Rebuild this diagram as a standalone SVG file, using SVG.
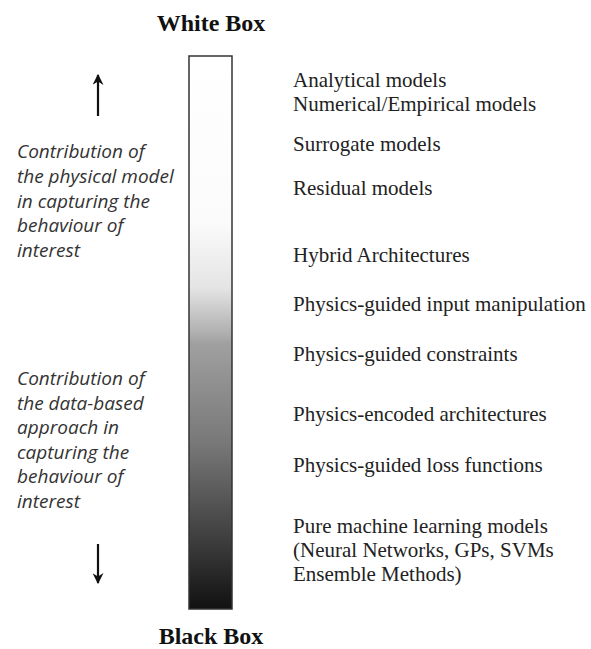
<svg xmlns="http://www.w3.org/2000/svg" width="591" height="649" viewBox="0 0 591 649">
<defs>
<linearGradient id="g" x1="0" y1="0" x2="0" y2="1">
<stop offset="0" stop-color="#ffffff"/>
<stop offset="0.3" stop-color="#fbfbfb"/>
<stop offset="0.42" stop-color="#e4e4e4"/>
<stop offset="0.5" stop-color="#b0b0b0"/>
<stop offset="0.52" stop-color="#a0a0a0"/>
<stop offset="0.7" stop-color="#787878"/>
<stop offset="0.88" stop-color="#3c3c3c"/>
<stop offset="1" stop-color="#111111"/>
</linearGradient>
<marker id="ah" viewBox="0 0 10 10" refX="9" refY="5" markerWidth="5" markerHeight="5" orient="auto" markerUnits="strokeWidth">
<path d="M0,0 L10,5 L0,10 L3,5 z" fill="#111"/>
</marker>
<style>
.h{font-family:"Liberation Serif",serif;font-weight:bold;font-size:24px;fill:#111;text-anchor:middle}
.r{font-family:"Liberation Serif",serif;font-size:21px;fill:#222}
.l{font-family:"Open Sans","DejaVu Sans",sans-serif;font-style:italic;font-size:19px;fill:#333}
.a{stroke:#111;stroke-width:2.2;fill:none}
</style>
</defs>
<rect width="591" height="649" fill="#ffffff"/>
<g id="bar">
<rect x="189" y="56" width="43" height="553" fill="url(#g)" stroke="#333" stroke-width="1.5"/>
</g>
<g id="title-white"><text class="h" x="211" y="31">White Box</text></g>
<g id="title-black"><text class="h" x="211" y="644">Black Box</text></g>
<g id="connectors">
<line class="a" x1="98" y1="116" x2="98" y2="75" marker-end="url(#ah)"/>
<line class="a" x1="98" y1="544" x2="98" y2="583" marker-end="url(#ah)"/>
</g>
<g id="left-physical">
<text class="l" x="17" y="158">Contribution of</text>
<text class="l" x="17" y="183">the physical model</text>
<text class="l" x="17" y="208">in capturing the</text>
<text class="l" x="17" y="232">behaviour of</text>
<text class="l" x="17" y="257">interest</text>
</g>
<g id="left-data">
<text class="l" x="17" y="385">Contribution of</text>
<text class="l" x="17" y="410">the data-based</text>
<text class="l" x="17" y="434">approach in</text>
<text class="l" x="17" y="459">capturing the</text>
<text class="l" x="17" y="483">behaviour of</text>
<text class="l" x="17" y="508">interest</text>
</g>
<g id="labels">
<text class="r" x="293" y="87">Analytical models</text>
<text class="r" x="293" y="111">Numerical/Empirical models</text>
<text class="r" x="293" y="151">Surrogate models</text>
<text class="r" x="293" y="195">Residual models</text>
<text class="r" x="293" y="262">Hybrid Architectures</text>
<text class="r" x="293" y="311">Physics-guided input manipulation</text>
<text class="r" x="293" y="361">Physics-guided constraints</text>
<text class="r" x="293" y="421">Physics-encoded architectures</text>
<text class="r" x="293" y="472">Physics-guided loss functions</text>
<text class="r" x="293" y="533">Pure machine learning models</text>
<text class="r" x="293" y="557">(Neural Networks, GPs, SVMs</text>
<text class="r" x="293" y="581">Ensemble Methods)</text>
</g>
</svg>
